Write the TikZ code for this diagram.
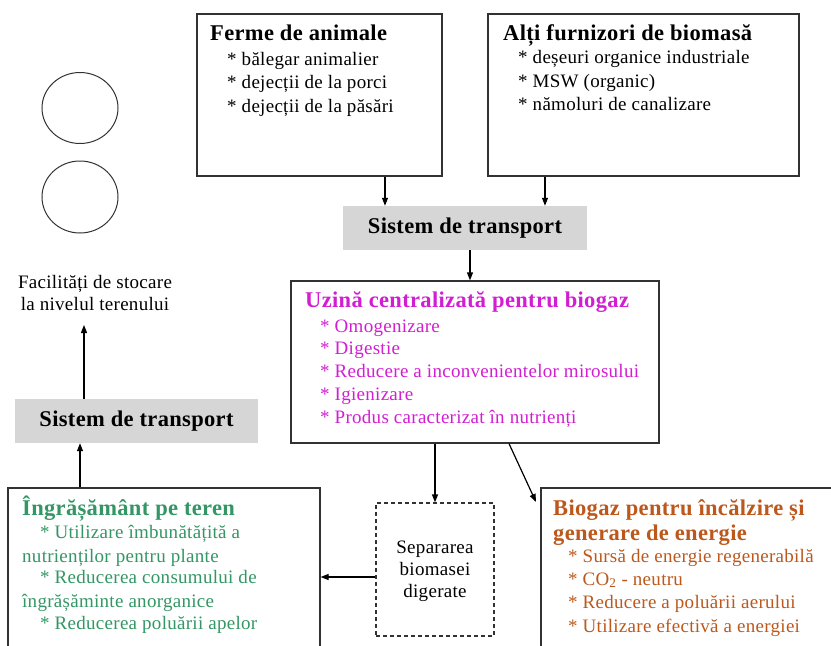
\documentclass[tikz,border=0pt]{standalone}
\usepackage{fontspec}
\setmainfont{Liberation Serif}[LetterSpace=1.5]
\usetikzlibrary{shapes.geometric,arrows.meta}
\definecolor{magen}{RGB}{210,30,210}
\definecolor{grn}{RGB}{51,150,100}
\definecolor{orng}{RGB}{188,88,28}
\definecolor{boxgray}{RGB}{214,214,214}
\definecolor{edge}{RGB}{50,50,50}
\tikzset{
  box/.style={draw=edge,line width=1.2pt,rectangle,inner sep=0pt},
  dbox/.style={box,dashed,dash pattern=on 4pt off 3pt},
  graybox/.style={fill=boxgray,rectangle,inner sep=0pt,font=\fontsize{22.5}{26}\selectfont\bfseries},
  circ/.style={draw=edge,line width=1pt,ellipse,inner sep=0pt},
  ttl/.style={anchor=base west,inner sep=0pt,font=\fontsize{22.5}{26}\selectfont\bfseries},
  itm/.style={anchor=base west,inner sep=0pt,font=\fontsize{19}{23}\selectfont},
  ctr/.style={anchor=base,inner sep=0pt,font=\fontsize{19}{23}\selectfont},
  arr/.style={line width=1.2pt,draw=black,-{Triangle[length=8pt,width=6pt]}},
}
\begin{document}
\begin{tikzpicture}[x=1pt,y=-1pt]
\useasboundingbox (0,0) rectangle (831,646);
\clip (0,0) rectangle (831,646);
% boxes
\node[box,minimum width=245,minimum height=162] (ferme) at (319.5,95) {};
\node[box,minimum width=311,minimum height=162] (alti) at (643.5,95) {};
\node[graybox,minimum width=244,minimum height=44] (sis1) at (465,228) {Sistem de transport};
\node[box,minimum width=368,minimum height=162] (uz) at (475,362) {};
\node[dbox,minimum width=118,minimum height=133] (sep) at (435,569.5) {};
\node[box,minimum width=312,minimum height=172] (ingr) at (164,574) {};
\node[box,minimum width=304,minimum height=172] (bio) at (693,574) {};
\node[graybox,minimum width=243,minimum height=44] (sis2) at (136.5,421) {Sistem de transport};
\node[circ,minimum width=76,minimum height=71] (c1) at (80,108) {};
\node[circ,minimum width=76,minimum height=72] (c2) at (80,197) {};
% Ferme
\node[ttl] (f0) at (210,40) {Ferme de animale};
\node[itm] (f1) at (227,65) {* bălegar animalier};
\node[itm] (f2) at (227,88) {* dejecții de la porci};
\node[itm] (f3) at (227,112) {* dejecții de la păsări};
% Alti
\node[ttl] (a0) at (503,40) {Alți furnizori de biomasă};
\node[itm] (a1) at (518,63) {* deșeuri organice industriale};
\node[itm] (a2) at (518,87) {* MSW (organic)};
\node[itm] (a3) at (518,110) {* nămoluri de canalizare};
% Uzina
\node[ttl,text=magen] (u0) at (305,307) {Uzină centralizată pentru biogaz};
\node[itm,text=magen] (u1) at (320,332) {* Omogenizare};
\node[itm,text=magen] (u2) at (320,354) {* Digestie};
\node[itm,text=magen] (u3) at (320,377) {* Reducere a inconvenientelor mirosului};
\node[itm,text=magen] (u4) at (320,400) {* Igienizare};
\node[itm,text=magen] (u5) at (320,423) {* Produs caracterizat în nutrienți};
% Ingrasamant
\node[ttl,text=grn] (i0) at (22,515) {Îngrășământ pe teren};
\node[itm,text=grn] (i1) at (40,538) {* Utilizare îmbunătățită a};
\node[itm,text=grn] (i2) at (22,562) {nutrienților pentru plante};
\node[itm,text=grn] (i3) at (40,583) {* Reducerea consumului de};
\node[itm,text=grn] (i4) at (22,607) {îngrășăminte anorganice};
\node[itm,text=grn] (i5) at (40,629) {* Reducerea poluării apelor};
% Biogaz
\node[ttl,text=orng] (b0) at (553,515) {Biogaz pentru încălzire și};
\node[ttl,text=orng] (b0b) at (553,540) {generare de energie};
\node[itm,text=orng] (b1) at (568,562) {* Sursă de energie regenerabilă};
\node[itm,text=orng] (b2) at (568,585) {* CO\textsubscript{2} - neutru};
\node[itm,text=orng] (b3) at (568,608) {* Reducere a poluării aerului};
\node[itm,text=orng] (b4) at (568,632) {* Utilizare efectivă a energiei};
% Separarea
\node[ctr] (s1) at (435,553) {Separarea};
\node[ctr] (s2) at (435,575) {biomasei};
\node[ctr] (s3) at (435,597) {digerate};
% Facilitati
\node[ctr] (fa1) at (95,288) {Facilități de stocare};
\node[ctr] (fa2) at (95,310) {la nivelul terenului};
\coordinate (faend) at (84,325);
\coordinate (bioarr) at (536,502);
% arrows
\draw[arr] ([xshift=65.5pt]ferme.south) -- ([xshift=65.5pt]ferme.south |- sis1.north);
\draw[arr] ([xshift=-98.5pt]alti.south) -- ([xshift=-98.5pt]alti.south |- sis1.north);
\draw[arr] ([xshift=5pt]sis1.south) -- ([xshift=5pt]sis1.south |- uz.north);
\draw[arr] (uz.south -| sep.north) -- (sep.north);
\draw[arr] ([xshift=34pt]uz.south) -- (bioarr);
\draw[arr] ([yshift=-7.5pt]sep.west) -- ([yshift=-7.5pt]sep.west -| ingr.east);
\draw[arr] ([xshift=-84pt]ingr.north) -- ([xshift=-84pt]ingr.north |- sis2.south);
\draw[arr] (sis2.north -| faend) -- (faend);
\end{tikzpicture}
\end{document}
